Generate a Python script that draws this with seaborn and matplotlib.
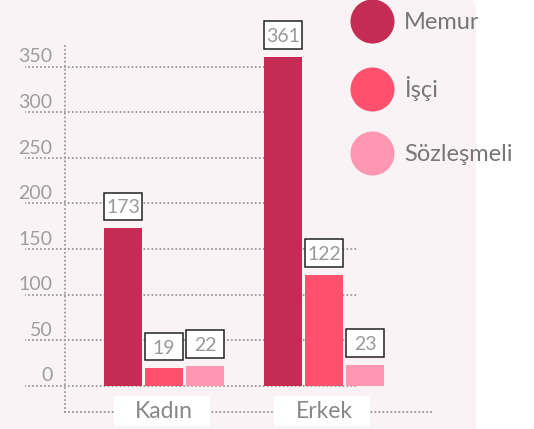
import matplotlib
matplotlib.use("Agg")
import matplotlib.pyplot as plt
import numpy as np
import pandas as pd
import seaborn as sns
from matplotlib.lines import Line2D
from matplotlib.patches import FancyBboxPatch, Rectangle
from matplotlib.transforms import blended_transform_factory

# ------------------- data

cinsiyet = ["Kadın", "Erkek"]
turler = ["Memur", "İşçi", "Sözleşmeli"]
memur = [173, 361]
isci = [19, 122]
sozlesmeli = [22, 23]
y_ticks = [0, 50, 100, 150, 200, 250, 300, 350]

renkler = ["#C42B55", "#FF5070", "#FF97B2"]
panel_rengi = "#FAF3F5"
nokta_rengi = "#999999"
dots = (0, (0.01, 1.9))

df = pd.DataFrame({
    "cinsiyet": cinsiyet * 3,
    "tur": [t for t in turler for _ in cinsiyet],
    "sayi": memur + isci + sozlesmeli,
})

# ------------------- figure

plt.rcParams["font.family"] = ["Lato", "DejaVu Sans"]

fig = plt.figure(figsize=(5.34, 4.29), dpi=100, facecolor="white")

# pink panel with rounded top-right corner
panel = FancyBboxPatch((-0.3, -0.3), 4.76 + 0.3, 4.31 + 0.3,
                       boxstyle="round,pad=0,rounding_size=0.12",
                       transform=fig.dpi_scale_trans, fc=panel_rengi, ec="none", zorder=0)
fig.add_artist(panel)

ax = fig.add_axes([25 / 534, 17 / 429, 410 / 534, 369.3 / 429])
ax.set_facecolor("none")

sns.barplot(data=df, x="cinsiyet", y="sayi", hue="tur", palette=renkler,
            saturation=1, width=0.77, gap=0.075, linewidth=0, errorbar=None,
            legend=False, zorder=3, ax=ax)
bars = [p for p in ax.patches if p.get_height() > 0]

ax.set_xlim(-0.869, 1.694)
ax.set_ylim(-28.9, 376.4)
ax.set_xlabel("")
ax.set_ylabel("")

# y axis: labels sit just above the dotted grid lines
ax.set_yticks(y_ticks)
ax.set_yticklabels([])
ax.tick_params(axis="y", length=0)
for v in y_ticks:
    ax.text(-0.698, v + 1.5, str(v), ha="right", va="bottom", fontsize=14,
            color="#9E9E9E", zorder=5)

grid = ax.hlines(y_ticks, -0.869, 1.2125, colors=nokta_rengi, lw=1.5,
                 linestyles=dots, zorder=1)
grid.set_capstyle("round")

for side in ["top", "right"]:
    ax.spines[side].set_visible(False)
ax.spines["left"].set_position(("data", -0.622))
ax.spines["bottom"].set_bounds(-0.622, 1.694)
for side in ["left", "bottom"]:
    ax.spines[side].set_linestyle(dots)
    ax.spines[side].set_color(nokta_rengi)
    ax.spines[side].set_linewidth(1.5)
    ax.spines[side].set_capstyle("round")

# x axis: category names in white boxes over the axis line
ax.tick_params(axis="x", length=0, pad=0, labelsize=16.5, labelcolor="#888888")
for lab in ax.get_xticklabels():
    lab.set_verticalalignment("center")
ax.xaxis.set_zorder(6)
trans_x = blended_transform_factory(ax.transData, ax.transAxes)
for xt in ax.get_xticks():
    ax.add_patch(Rectangle((xt - 0.31, -0.037), 0.6, 0.081, transform=trans_x,
                           fc="white", ec="none", clip_on=False, zorder=4))

# value boxes above the bars
upp = np.diff(ax.get_ylim())[0] / (ax.get_position().height * fig.get_figheight() * fig.dpi)
for p in bars:
    h = p.get_height()
    y0 = h + 8 * upp
    bh = 27.5 * upp
    ax.add_patch(Rectangle((p.get_x(), y0), p.get_width(), bh, fc="white",
                           ec="#222222", lw=1.1, zorder=4, clip_on=False))
    ax.text(p.get_x() + p.get_width() / 2, y0 + bh / 2, f"{h:.0f}",
            ha="center", va="center_baseline", fontsize=14, color="#9A9A9A",
            zorder=5, clip_on=False)

# the legend area hides the upper grid lines
top_bar = max(bars, key=lambda b: b.get_height())
ax.add_patch(Rectangle((top_bar.get_x() + top_bar.get_width(), 175),
                       2, 400, fc=panel_rengi, ec="none", zorder=2))

# legend with big circles
handles = [Line2D([0], [0], marker="o", ls="", ms=31.7, mfc=c, mec="none") for c in renkler]
fig.legend(handles, turler, loc="upper left", bbox_to_anchor=(348.4 / 534, 1 - 12 / 429),
           frameon=False, fontsize=17, labelcolor="#777777", handlelength=2,
           handletextpad=0.36, labelspacing=1.82, borderpad=0, borderaxespad=0)

fig.savefig("out.png", dpi=100, facecolor=fig.get_facecolor())
